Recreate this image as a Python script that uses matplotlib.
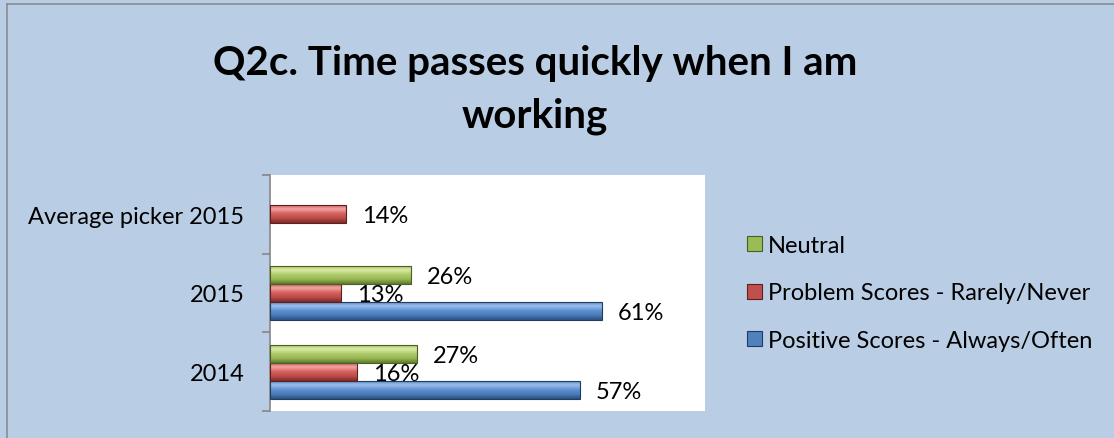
import numpy as np
import matplotlib
matplotlib.use("Agg")
import matplotlib.pyplot as plt
from matplotlib.patches import Patch
from matplotlib.colors import LinearSegmentedColormap
from matplotlib.lines import Line2D

categories = ["2014", "2015", "Average picker 2015"]
series_names = ["Positive Scores - Always/Often", "Problem Scores - Rarely/Never", "Neutral"]
positive = [0.57, 0.61, np.nan]
problem = [0.16, 0.13, 0.14]
neutral = [0.27, 0.26, np.nan]
values = [positive, problem, neutral]
title = "Q2c. Time passes quickly when I am\nworking"

base_colors = ["#4F81BD", "#C0504D", "#9BBB59"]
grad_colors = [
    ["#2B5080", "#4A7CBA", "#5E90D0", "#9DC0EE", "#4F81BD"],
    ["#7C2B29", "#BC4C49", "#D4625F", "#F4A5A3", "#C0504D"],
    ["#5F7A2C", "#97B755", "#AECB6A", "#DCEBA8", "#9BBB59"],
]
edge_colors = ["#1F3D63", "#5E1F1D", "#4A5F22"]

bg = "#B9CDE5"
plt.rcParams['font.family'] = ['Lato', 'DejaVu Sans']
FS = 17

W, H = 1114, 439
fig = plt.figure(figsize=(W / 100, H / 100), dpi=100)
fig.patch.set_facecolor(bg)

ax = fig.add_axes([270 / W, 1 - 412 / H, (705 - 270) / W, (412 - 176) / H])
ax.set_facecolor("white")

h = 0.229
offsets = [-h, 0, h]
y = np.arange(len(categories))
for s, (vals, off) in enumerate(zip(values, offsets)):
    cmap = LinearSegmentedColormap.from_list(f"c{s}", grad_colors[s])
    grad = np.linspace(0, 1, 64).reshape(-1, 1)
    bars = ax.barh(y + off, vals, height=h, color=base_colors[s],
                   edgecolor=edge_colors[s], linewidth=0.8, zorder=2)
    for bar, v in zip(bars, vals):
        if np.isnan(v):
            continue
        x0, y0 = bar.get_x(), bar.get_y()
        bw, bh = bar.get_width(), bar.get_height()
        im = ax.imshow(grad, cmap=cmap, aspect="auto", origin="lower",
                       extent=(x0, x0 + bw, y0, y0 + bh), zorder=2.5,
                       interpolation="bicubic")
        im.set_clip_path(bar)
        ax.annotate(f"{v:.0%}", (v, bar.get_y() + bh / 2), xytext=(11.5, -1),
                    textcoords="offset points", va="center", ha="left",
                    fontsize=FS, color="black", zorder=4)
    for bar in bars:
        bar.set_facecolor("none")
        bar.set_zorder(3)

ax.set_xlim(0, 0.8)
ax.set_ylim(-0.5, len(categories) - 0.5)
ax.set_xticks([])
ax.set_yticks(y)
ax.set_yticklabels(categories, fontsize=FS)
ax.set_yticks(np.arange(-0.5, len(categories)), minor=True)
ax.tick_params(axis="y", which="major", length=0, pad=18.5)
ax.tick_params(axis="y", which="minor", length=6, color="#868686", width=1.2)
for side in ["top", "right", "bottom"]:
    ax.spines[side].set_visible(False)
ax.spines["left"].set_color("#868686")
ax.spines["left"].set_linewidth(1.2)

fig.text(535 / W, 1 - 90 / H, title, ha="center", va="center",
         fontsize=29, fontweight="bold", linespacing=1.5)

handles = [Patch(facecolor=base_colors[s], edgecolor=edge_colors[s], linewidth=0.8)
           for s in [2, 1, 0]]
labels = [series_names[s] for s in [2, 1, 0]]
fig.legend(handles, labels, loc="center left",
           bbox_to_anchor=(747 / W, 1 - 294 / H), frameon=False,
           fontsize=FS, handlelength=0.62, handleheight=0.62,
           handletextpad=0.28, labelspacing=1.12, borderaxespad=0, borderpad=0)

fig.add_artist(Line2D([7 / W, 7 / W], [0, 1 - 5 / H], transform=fig.transFigure,
                      color="#8C8C8C", linewidth=1.2))
fig.add_artist(Line2D([7 / W, 1], [1 - 5 / H, 1 - 5 / H], transform=fig.transFigure,
                      color="#8C8C8C", linewidth=1.2))

fig.savefig("out.png", dpi=100, facecolor=bg)
